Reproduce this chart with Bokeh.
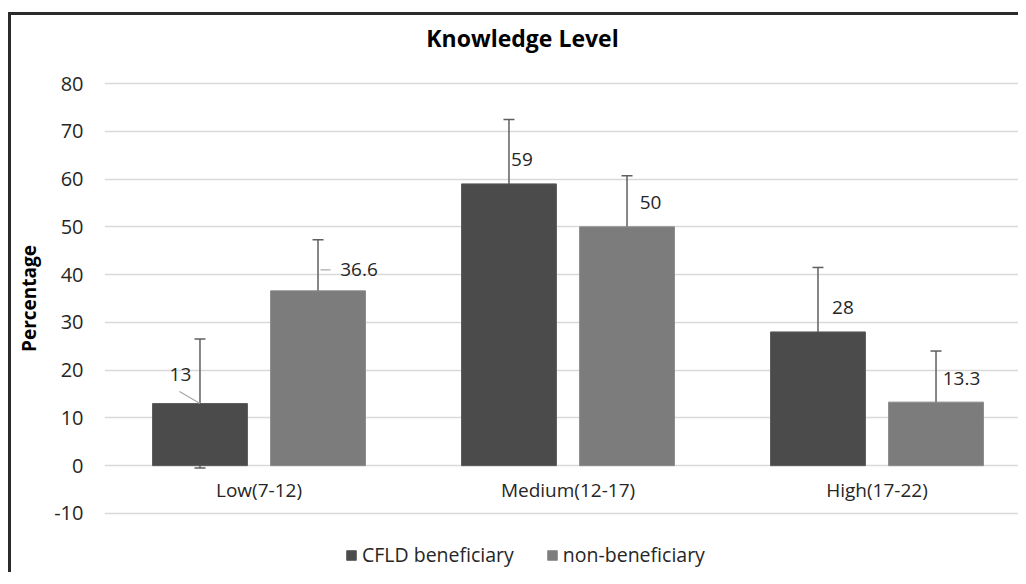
from bokeh.plotting import figure
from bokeh.models import (ColumnDataSource, Whisker, TeeHead, Legend, LegendItem,
                          Label, FixedTicker, Range1d)
from bokeh.embed import file_html
from bokeh.resources import INLINE
from bokeh.core.properties import value

# ---------------- data ----------------
categories = ["Low(7-12)", "Medium(12-17)", "High(17-22)"]
series_names = ["CFLD beneficiary", "non-beneficiary"]
cfld_values = [13, 59, 28]
non_values = [36.6, 50, 13.3]
cfld_errors = [13.5, 13.5, 13.5]
non_errors = [10.7, 10.7, 10.7]
cfld_labels = ["13", "59", "28"]
non_labels = ["36.6", "50", "13.3"]
y_ticks = [-10, 0, 10, 20, 30, 40, 50, 60, 70, 80]
y_tick_text = {t: str(t) for t in y_ticks}

# ---------------- layout / style ----------------
FONT = "Open Sans"
TXT = "#262626"
W, H = 1010, 560
ML, MR, MT, MB = 93, 0, 6, 0
PX_PER_CAT = 309.0
frame_w = W - ML - MR
frame_h = H - MT - MB
Y0, Y1 = -23, 93          # visible range extended so title/legend sit inside the frame
PX_PER_UNIT = frame_h / (Y1 - Y0)
x_end = frame_w / PX_PER_CAT
BAR_W = 0.307
OFF = 0.191
CFLD_COLOR = "#4b4b4b"
NON_COLOR = "#7c7c7c"
ERR_COLOR = "#5f5f5f"

# label offsets in pixels (x right, y down)
cfld_lab_dx = [-19.5, 13, 25]
cfld_lab_dy = [-29, -24, -24]
non_lab_dx = [41, 23.5, 25.5]
non_lab_dy = [-21, -24, -23.5]

centers = [i + 0.5 for i in range(len(categories))]
cfld_x = [c - OFF for c in centers]
non_x = [c + OFF for c in centers]

p = figure(width=W, height=H, x_range=Range1d(0, x_end), y_range=Range1d(Y0, Y1),
           output_backend="svg", toolbar_location=None,
           min_border_left=ML, min_border_right=MR, min_border_top=MT, min_border_bottom=MB)
p.title.visible = False
p.styles = {"border-left": "3px solid #2b2b2b", "border-top": "3px solid #2b2b2b",
            "margin-top": "12px", "margin-left": "8px"}
p.outline_line_color = None
p.background_fill_color = "white"
p.border_fill_color = "white"

# axes
p.xaxis.visible = False
p.xgrid.grid_line_color = None
p.yaxis.ticker = FixedTicker(ticks=y_ticks)
p.yaxis.major_label_overrides = y_tick_text
p.yaxis.axis_line_color = None
p.yaxis.major_tick_line_color = None
p.yaxis.minor_tick_line_color = None
p.yaxis.major_tick_out = 0
p.yaxis.major_tick_in = 0
p.yaxis.major_label_standoff = 21
p.yaxis.major_label_text_font = FONT
p.yaxis.major_label_text_font_size = "20px"
p.yaxis.major_label_text_color = TXT
p.yaxis.axis_label = "Percentage"
p.yaxis.axis_label_text_font = FONT
p.yaxis.axis_label_text_font_size = "19px"
p.yaxis.axis_label_text_font_style = "bold"
p.yaxis.axis_label_text_color = "#000000"
p.yaxis.axis_label_standoff = 9
p.ygrid.ticker = FixedTicker(ticks=y_ticks)
p.ygrid.grid_line_color = "#d9d9d9"
p.ygrid.grid_line_width = 1.5

# bars
src_c = ColumnDataSource(dict(x=cfld_x, top=cfld_values,
                              upper=[v + e for v, e in zip(cfld_values, cfld_errors)],
                              lower=[v - e for v, e in zip(cfld_values, cfld_errors)],
                              t=cfld_labels, dx=cfld_lab_dx, dy=cfld_lab_dy))
src_n = ColumnDataSource(dict(x=non_x, top=non_values,
                              upper=[v + e for v, e in zip(non_values, non_errors)],
                              lower=[v - e for v, e in zip(non_values, non_errors)],
                              t=non_labels, dx=non_lab_dx, dy=non_lab_dy))

r_c = p.vbar(x="x", top="top", bottom=0, width=BAR_W, source=src_c,
             fill_color=CFLD_COLOR, line_color="#5a5a5a", line_width=1)
r_n = p.vbar(x="x", top="top", bottom=0, width=BAR_W, source=src_n,
             fill_color=NON_COLOR, line_color="#8a8a8a", line_width=1)

# error bars
for src in (src_c, src_n):
    w = Whisker(base="x", upper="upper", lower="lower", source=src,
                line_color=ERR_COLOR, line_width=1.5,
                upper_head=TeeHead(size=11, line_color=ERR_COLOR, line_width=1.5),
                lower_head=TeeHead(size=11, line_color=ERR_COLOR, line_width=1.5))
    p.add_layout(w)

# leader lines (from label towards bar / error bar)
lead_x0 = [cfld_x[0], non_x[0] + 2.5 / PX_PER_CAT]
lead_y0 = [cfld_values[0], non_values[0] + 21 / PX_PER_UNIT]
lead_x1 = [cfld_x[0] - 20.5 / PX_PER_CAT, non_x[0] + 12.5 / PX_PER_CAT]
lead_y1 = [cfld_values[0] + 12 / PX_PER_UNIT, non_values[0] + 21 / PX_PER_UNIT]
p.segment(x0=lead_x0, y0=lead_y0, x1=lead_x1, y1=lead_y1, line_color="#a6a6a6", line_width=1.2)

# data labels
for src in (src_c, src_n):
    p.text(x="x", y="top", text="t", x_offset="dx", y_offset="dy", source=src,
           text_align="center", text_baseline="middle",
           text_font=value(FONT), text_font_size="19px", text_color=TXT)

# category labels (just below the zero line)
p.text(x=centers, y=[0] * len(centers), text=categories, y_offset=24,
       text_align="center", text_baseline="middle",
       text_font=value(FONT), text_font_size="19px", text_color=TXT)

# title (screen units from frame bottom-left)
title = Label(x=418, y=538, x_units="screen", y_units="screen", text="Knowledge Level",
              text_font=FONT, text_font_size="23px", text_font_style="bold",
              text_color="#000000", text_align="center", text_baseline="middle")
p.add_layout(title)

# legend
legend = Legend(items=[LegendItem(label=series_names[0], renderers=[r_c]),
                       LegendItem(label=series_names[1], renderers=[r_n])],
                orientation="horizontal", location=(241, 7), padding=0, margin=0,
                spacing=32, label_standoff=5, glyph_width=12, glyph_height=12,
                border_line_color=None, background_fill_alpha=0,
                label_text_font=FONT, label_text_font_size="19.5px", label_text_color=TXT)
p.add_layout(legend)

open("out.html", "w").write(file_html(p, INLINE))
